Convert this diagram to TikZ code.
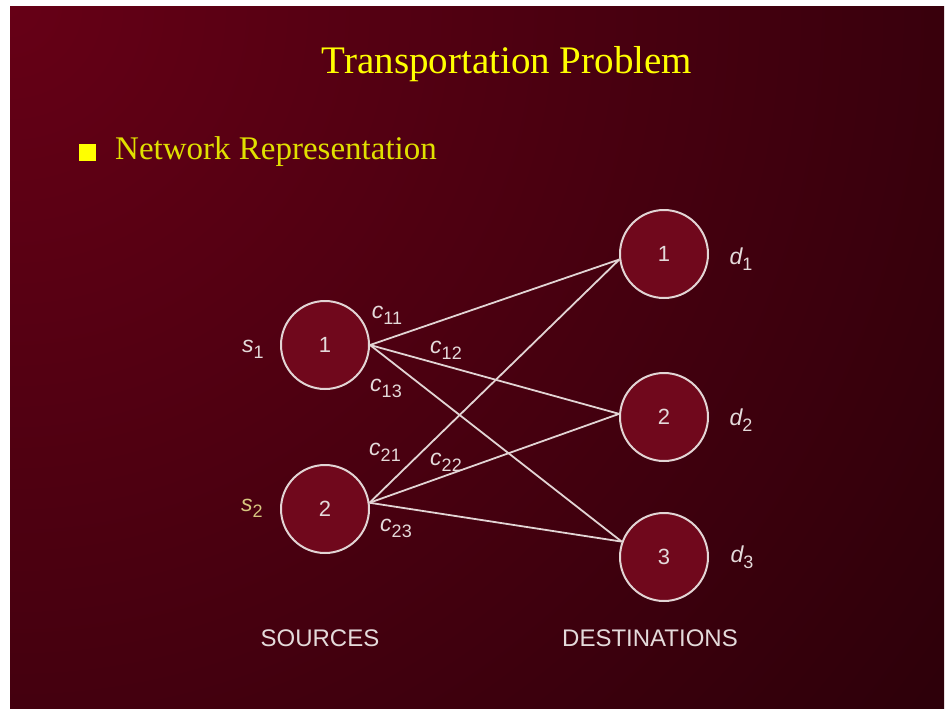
\documentclass[tikz,border=0pt]{standalone}
\usepackage{fontspec}
\setmainfont{Liberation Serif}
\setsansfont{Liberation Sans}

\definecolor{slidelight}{RGB}{102,0,22}
\definecolor{slidedark}{RGB}{46,0,10}
\definecolor{nodefill}{RGB}{112,8,28}
\definecolor{linegray}{RGB}{226,212,212}
\definecolor{textgray}{RGB}{228,218,218}
\definecolor{headyellow}{RGB}{255,255,0}
\definecolor{supgold}{RGB}{214,198,128}

% italic letter with a large, lowered index
\newcommand{\idx}[2]{{\fontsize{23}{23}\selectfont\itshape #1}\raisebox{-6pt}{\fontsize{18}{18}\selectfont #2}}

\begin{document}
\begin{tikzpicture}[x=1pt, y=-1pt,
		place/.style={shape=circle, draw=linegray, line width=2pt, fill=nodefill, minimum size=88pt, inner sep=0pt, text=textgray, font=\fontsize{22}{22}\selectfont\sffamily},
		cost/.style={text=textgray, inner sep=0pt, font=\sffamily},
		caption/.style={text=textgray, inner sep=0pt, font=\fontsize{24}{24}\selectfont\sffamily},
		link/.style={draw=linegray, line width=1.8pt}]
			\useasboundingbox (0,0) rectangle (946,710);
			
			% slide background, lighter in the upper left corner
			\begin{scope}
				\clip (10,6) rectangle (944,708);
				\shade[inner color=slidelight, outer color=slidedark] (-1140,-1144) rectangle (1160,1156);
			\end{scope}
			
			\node (title)[text=headyellow, font=\fontsize{39}{39}\selectfont] 
			at (507,64){Transportation Problem};
			
			\node (bul)[shape=rectangle, fill=headyellow, minimum size=17pt, inner sep=0pt] 
			at (87,152){};
			\node (sub)[anchor=west, inner sep=0pt, text=headyellow!88!black, font=\fontsize{33}{33}\selectfont] 
			at (115,152){Network Representation};
			
			% sources
			\node (s1)[place] at (325,345){1};
			\node (s2)[place] at (325,509){2};
			
			% destinations
			\node (d1)[place] at (664,254){1};
			\node (d2)[place] at (664,417){2};
			\node (d3)[place] at (664,557){3};
			
			\path[link] (s1.east) edge (d1.187);
			\path[link] (s1.east) edge (d2.176);
			\path[link] (s1.east) edge (d3.160);
			\path[link] (s2.8) edge (d1.187);
			\path[link] (s2.8) edge (d2.176);
			\path[link] (s2.8) edge (d3.160);
			
			\node (ls1)[cost] at (253,349){\idx{s}{1}};
			\node (ls2)[cost, text=supgold] at (252,508){\idx{s}{2}};
			
			\node (c11)[cost] at (387,315){\idx{c}{11}};
			\node (c12)[cost] at (446,350){\idx{c}{12}};
			\node (c13)[cost] at (386,388){\idx{c}{13}};
			\node (c21)[cost] at (385,452){\idx{c}{21}};
			\node (c22)[cost] at (446,462){\idx{c}{22}};
			\node (c23)[cost] at (396,528){\idx{c}{23}};
			
			\node (ld1)[cost] at (741,259){\idx{d}{1}};
			\node (ld2)[cost] at (741,420){\idx{d}{2}};
			\node (ld3)[cost] at (742,557){\idx{d}{3}};
			
			\node (src)[caption] at (320,638){SOURCES};
			\node (dst)[caption] at (650,638){DESTINATIONS};
		\end{tikzpicture}
\end{document}
